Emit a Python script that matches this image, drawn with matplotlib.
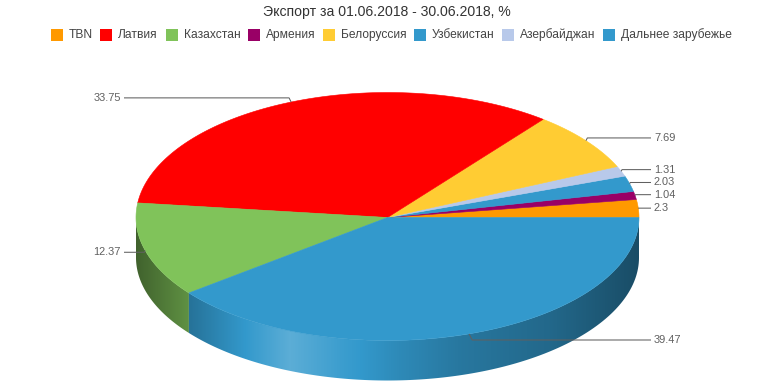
import numpy as np
import matplotlib
matplotlib.use("Agg")
import matplotlib.pyplot as plt
from matplotlib.patches import Polygon, Rectangle
from matplotlib.colors import to_rgb

plt.rcParams['font.family'] = ['Liberation Sans', 'DejaVu Sans']

# ---------------- data ----------------
title = "Экспорт за 01.06.2018 - 30.06.2018, %"
labels = ['TBN', 'Латвия', 'Казахстан', 'Армения', 'Белоруссия',
          'Узбекистан', 'Азербайджан', 'Дальнее зарубежье']
values = [2.3, 33.75, 12.37, 1.04, 7.69, 2.03, 1.31, 39.47]
colors = ['#ff9900', '#ff0000', '#80c35a', '#990066', '#ffcc33',
          '#3399cc', '#b8c9ea', '#3399cc']
# order of slices counter-clockwise starting at the east
pie_order = [0, 3, 5, 6, 4, 1, 2, 7]

# ---------------- layout ----------------
W, H = 774, 387
cx, cy = 387.5, 217.5
rx = 251.5
ry_back, ry_front = 125.0, 123.0
depth = 40.0
label_ry = 129.5
label_dx = 15.0

fig = plt.figure(figsize=(W / 100, H / 100), dpi=100)
ax = fig.add_axes([0, 0, 1, 1])
ax.set_xlim(0, W)
ax.set_ylim(H, 0)
ax.axis('off')

PX = 0.72  # px -> pt


def ell(t, dy=0.0):
    t = np.asarray(t, dtype=float)
    s = np.sin(t)
    ry = np.where(s > 0, ry_back, ry_front)
    return cx + rx * np.cos(t), cy - ry * s + dy


def shade_color(rgb, f):
    rgb = np.asarray(rgb)
    f = np.asarray(f)[..., None]
    dark = rgb * f
    light = rgb + (f - 1.0) * (1.0 - rgb)
    return np.where(f <= 1.0, dark, light)


shade_x = [cx - rx, cx - rx + 54, cx - rx + 154, cx - rx + 204,
           cx - rx + 264, cx - rx + 324, cx - rx + 414, cx + rx]
shade_f = [0.5, 0.75, 1.2, 1.05, 0.9, 0.78, 0.68, 0.5]

total = float(sum(values))
slices = []
start = 0.0
for idx in pie_order:
    span = values[idx] / total * 2 * np.pi
    slices.append((idx, start, start + span))
    start += span

# ---------------- side walls (front half) ----------------
xcols = np.arange(W) + 0.5
fcols = np.interp(xcols, shade_x, shade_f)
for idx, a0, a1 in slices:
    t0, t1 = max(a0, np.pi), min(a1, 2 * np.pi)
    if t1 <= t0:
        continue
    ts = np.linspace(t0, t1, 200)
    xt, yt = ell(ts)
    xb, yb = ell(ts[::-1], depth)
    pts = np.column_stack([np.concatenate([xt, xb]), np.concatenate([yt, yb])])
    img = shade_color(to_rgb(colors[idx]), fcols)[None, :, :]
    im = ax.imshow(img, extent=(0, W, H, 0), aspect='auto',
                   interpolation='bilinear', zorder=1)
    clip = Polygon(pts, closed=True, transform=ax.transData)
    im.set_clip_path(clip)

# ---------------- top faces ----------------
for idx, a0, a1 in slices:
    n = max(int((a1 - a0) / (2 * np.pi) * 720), 4)
    ts = np.linspace(a0, a1, n)
    xs, ys = ell(ts)
    pts = np.column_stack([np.concatenate([[cx], xs]), np.concatenate([[cy], ys])])
    ax.add_patch(Polygon(pts, closed=True, facecolor=colors[idx],
                         edgecolor=colors[idx], linewidth=0.4, zorder=3))

ax.set_xlim(0, W)
ax.set_ylim(H, 0)

# ---------------- data labels ----------------
lab_color = '#606060'
for idx, a0, a1 in slices:
    m = 0.5 * (a0 + a1)
    sx, sy = ell(m)
    sx, sy = float(sx), float(sy)
    ly = cy - label_ry * np.sin(m)
    right = np.cos(m) >= 0
    sign = 1 if right else -1
    lx = cx + sign * (rx + label_dx)
    bx = sx + sign * 0.5 * abs(ly - sy)
    ax.plot([sx, bx, lx - sign * 3], [sy, ly, ly], color=lab_color,
            linewidth=0.75, zorder=5, solid_capstyle='butt')
    ax.text(lx, ly, f"{values[idx]:g}", ha='left' if right else 'right',
            va='center', fontsize=11 * PX, color=lab_color, zorder=6)

# ---------------- title ----------------
ax.text(387, 12, title, ha='center', va='center', fontsize=14 * PX,
        color='#333333')

# ---------------- legend ----------------
renderer = fig.canvas.get_renderer()
leg_fs = 12 * PX
mk = 12.0
txt_off = 18.0
gap = 7.5
widths = []
for lab in labels:
    t = ax.text(0, 0, lab, fontsize=leg_fs)
    bb = t.get_window_extent(renderer=renderer)
    widths.append(bb.width)
    t.remove()
total_w = sum(txt_off + w for w in widths) + gap * (len(labels) - 1)
x = 391.5 - total_w / 2
ly = 35
for lab, col, w in zip(labels, colors, widths):
    ax.add_patch(Rectangle((x, ly - mk / 2), mk, mk, facecolor=col,
                           edgecolor='none', zorder=6))
    ax.text(x + txt_off, ly, lab, ha='left', va='center', fontsize=leg_fs,
            color='#444444', zorder=6)
    x += txt_off + w + gap

fig.savefig('out.png', dpi=100)
